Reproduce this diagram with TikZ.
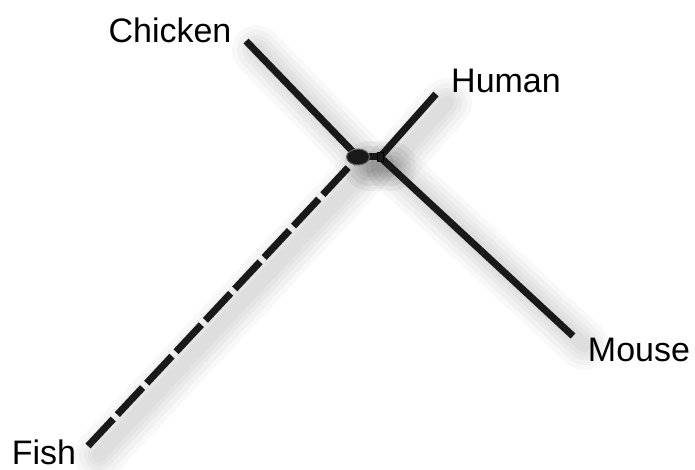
\documentclass[tikz,border=0pt]{standalone}
\usepackage{fontspec}
\setmainfont{Liberation Sans}
\usetikzlibrary{positioning,shapes.geometric}
\tikzset{
  branch/.style ={line width=7pt,black!90},
  lost/.style   ={branch,dash pattern=on 37pt off 6pt},
  halo/.style   ={black,opacity=0.028,line cap=round},
  taxon/.style  ={font=\fontsize{34}{36}\selectfont,inner sep=0pt},
  root/.style   ={draw=black!60,line width=1pt,ellipse,fill=black!90,minimum width=23pt,minimum height=16pt,inner sep=0pt}
}

\begin{document}
\begin{tikzpicture}[x=1pt,y=-1pt]
    \useasboundingbox (0,0) rectangle (695,470);
    \coordinate (anc) at (358,157);
    \coordinate (jn)  at (380,157);
    \coordinate (chk) at (246,41);
    \coordinate (hum) at (436,94);
    \coordinate (mou) at (573,336);
    \coordinate (fsh) at (88,446);
    % soft shadow
    \foreach \a/\b in {anc/chk,anc/fsh,jn/hum,jn/mou,anc/jn}
      \foreach \w in {50,40,30,22,14}
        \draw[halo,line width=\w pt] ([shift={(11,9)}]\a) -- ([shift={(11,9)}]\b);
    \draw[branch] (anc) -- (chk);
    \draw[branch] (anc) -- (jn);
    \draw[branch] (jn) -- (hum);
    \draw[branch] (jn) -- (mou);
    \draw[lost] (fsh) -- (anc);
    \node[root] (ancnode) at (anc) {};
    \node[draw,fill=black!90,minimum width=6pt,minimum height=9pt,inner sep=0pt] (jnnode) at (jn) {};
    \node[taxon] (chklab) at (170,30)  {Chicken};
    \node[taxon] (humlab) at (506,81)  {Human};
    \node[taxon] (moulab) at (639,350) {Mouse};
    \node[taxon] (fshlab) at (44,452)  {Fish};
\end{tikzpicture}
\end{document}
